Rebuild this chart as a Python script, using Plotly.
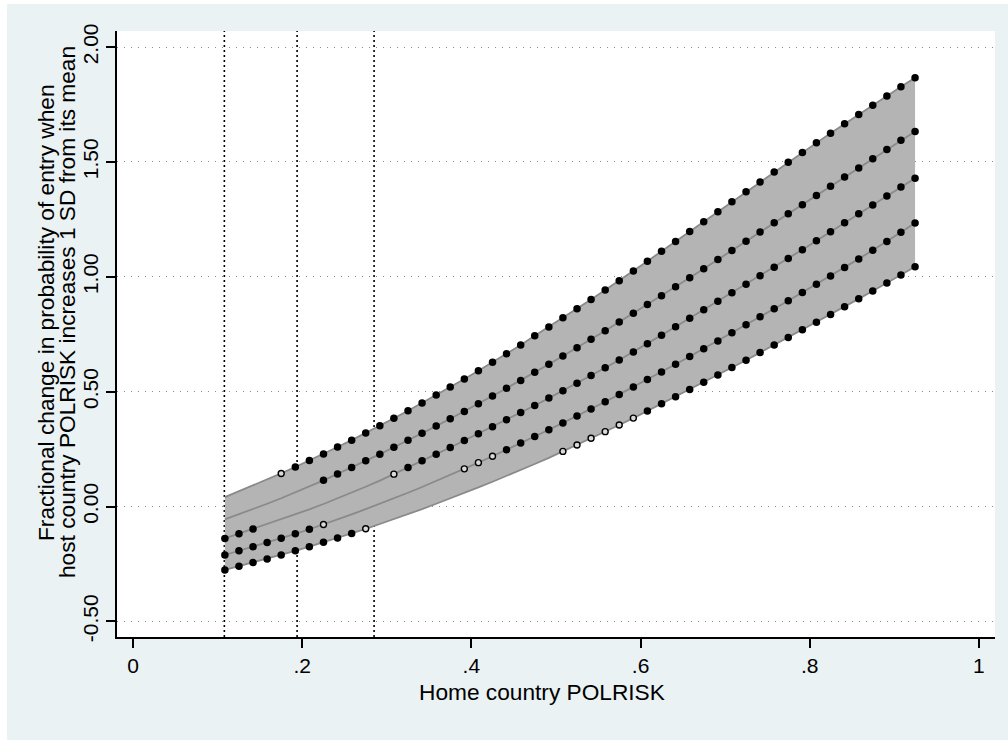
import plotly.graph_objects as go

# ---------------- data ----------------
polrisk = [0.1086, 0.1253, 0.1419, 0.1586, 0.1752, 0.1919, 0.2085, 0.2252, 0.2418, 0.2585,
           0.2751, 0.2918, 0.3084, 0.3251, 0.3417, 0.3584, 0.3750, 0.3917, 0.4083, 0.4250,
           0.4416, 0.4583, 0.4749, 0.4916, 0.5082, 0.5249, 0.5415, 0.5582, 0.5748, 0.5915,
           0.6081, 0.6248, 0.6414, 0.6581, 0.6747, 0.6914, 0.7080, 0.7247, 0.7413, 0.7580,
           0.7746, 0.7913, 0.8079, 0.8246, 0.8412, 0.8579, 0.8745, 0.8912, 0.9078, 0.9245]

upper = [0.041, 0.066, 0.092, 0.118, 0.144, 0.172, 0.200, 0.229, 0.259, 0.289,
         0.320, 0.352, 0.384, 0.417, 0.451, 0.485, 0.520, 0.555, 0.591, 0.628,
         0.665, 0.703, 0.743, 0.782, 0.822, 0.861, 0.901, 0.942, 0.983, 1.025,
         1.068, 1.111, 1.154, 1.197, 1.240, 1.283, 1.327, 1.370, 1.413, 1.456,
         1.499, 1.541, 1.583, 1.625, 1.666, 1.707, 1.747, 1.787, 1.827, 1.867]

upper_mid = [-0.056, -0.034, -0.011, 0.012, 0.036, 0.061, 0.087, 0.114, 0.142, 0.170,
             0.199, 0.228, 0.258, 0.288, 0.319, 0.350, 0.382, 0.414, 0.447, 0.481,
             0.515, 0.549, 0.584, 0.619, 0.655, 0.691, 0.728, 0.765, 0.803, 0.841,
             0.879, 0.918, 0.957, 0.996, 1.035, 1.075, 1.115, 1.155, 1.195, 1.235,
             1.274, 1.314, 1.354, 1.394, 1.434, 1.474, 1.514, 1.554, 1.594, 1.633]

middle = [-0.139, -0.118, -0.098, -0.077, -0.056, -0.034, -0.012, 0.011, 0.035, 0.060,
          0.086, 0.113, 0.141, 0.170, 0.199, 0.228, 0.257, 0.287, 0.317, 0.347,
          0.378, 0.409, 0.440, 0.472, 0.504, 0.537, 0.570, 0.604, 0.638, 0.673,
          0.709, 0.746, 0.783, 0.820, 0.857, 0.894, 0.931, 0.968, 1.005, 1.042,
          1.080, 1.118, 1.157, 1.196, 1.235, 1.274, 1.313, 1.352, 1.391, 1.429]

lower_mid = [-0.211, -0.193, -0.175, -0.157, -0.138, -0.119, -0.099, -0.078, -0.056, -0.034,
             -0.011, 0.012, 0.036, 0.060, 0.085, 0.111, 0.137, 0.164, 0.191, 0.219,
             0.247, 0.276, 0.305, 0.334, 0.364, 0.394, 0.425, 0.456, 0.488, 0.520,
             0.553, 0.586, 0.619, 0.653, 0.687, 0.721, 0.756, 0.791, 0.826, 0.861,
             0.896, 0.932, 0.968, 1.004, 1.041, 1.078, 1.116, 1.154, 1.194, 1.234]

lower = [-0.276, -0.260, -0.244, -0.228, -0.211, -0.193, -0.175, -0.156, -0.137, -0.117,
         -0.097, -0.076, -0.055, -0.033, -0.011, 0.012, 0.035, 0.059, 0.083, 0.108,
         0.133, 0.159, 0.185, 0.212, 0.240, 0.268, 0.297, 0.326, 0.355, 0.385,
         0.416, 0.447, 0.478, 0.509, 0.541, 0.573, 0.605, 0.637, 0.670, 0.703,
         0.736, 0.769, 0.802, 0.836, 0.870, 0.904, 0.938, 0.973, 1.008, 1.044]

# significance at each point: 2 = significant, 1 = marginal, 0 = not significant
sig_upper     = "00001 22222 22222 22222 22222 22222 22222 22222 22222 22222"
sig_upper_mid = "00000 00222 22222 22222 22222 22222 22222 22222 22222 22222"
sig_middle    = "22200 00000 00122 22222 22222 22222 22222 22222 22222 22222"
sig_lower_mid = "22222 22100 00000 00111 22222 22222 22222 22222 22222 22222"
sig_lower     = "22222 22222 10000 00000 00001 11111 22222 22222 22222 22222"

cutoffs = [0.108, 0.194, 0.285]

xtick_vals = [0, 0.2, 0.4, 0.6, 0.8, 1.0]
xtick_text = ["0", ".2", ".4", ".6", ".8", "1"]
ytick_vals = [-0.5, 0.0, 0.5, 1.0, 1.5, 2.0]
ytick_text = ["-0.50", "0.00", "0.50", "1.00", "1.50", "2.00"]

x_title = "Home country POLRISK"
y_title_1 = "Fractional change in probability of entry when"
y_title_2 = "host country POLRISK increases 1 SD from its mean"

# ---------------- styling ----------------
FONT = "Liberation Sans, Arial, sans-serif"
BAND = "#B4B4B4"
LINE = "#8A8A8A"
OUTER = "#EAF2F3"

W, H = 1008, 740
L, R, T, B = 117, 13, 31, 103
PW, PH = W - L - R, H - T - B


def px_x(p):
    return (p - L) / PW


def px_y(p):
    return (H - B - p) / PH


fig = go.Figure()

# confidence band between the lowest and highest curve
fig.add_trace(go.Scatter(x=polrisk, y=lower, mode="lines", line=dict(width=0, color=BAND),
                         hoverinfo="skip", showlegend=False))
fig.add_trace(go.Scatter(x=polrisk, y=upper, mode="lines", line=dict(width=0, color=BAND),
                         fill="tonexty", fillcolor=BAND, hoverinfo="skip", showlegend=False))

series = [(upper, sig_upper), (upper_mid, sig_upper_mid), (middle, sig_middle),
          (lower_mid, sig_lower_mid), (lower, sig_lower)]

for ys, sig in series:
    codes = sig.replace(" ", "")
    fig.add_trace(go.Scatter(x=polrisk, y=ys, mode="lines",
                             line=dict(color=LINE, width=1.8), showlegend=False))
    filled = [y if c == "2" else None for y, c in zip(ys, codes)]
    hollow = [y if c == "1" else None for y, c in zip(ys, codes)]
    fig.add_trace(go.Scatter(x=polrisk, y=filled, mode="markers",
                             marker=dict(symbol="circle", size=7.5, color="black",
                                         line=dict(width=0)),
                             showlegend=False))
    fig.add_trace(go.Scatter(x=polrisk, y=hollow, mode="markers",
                             marker=dict(symbol="circle", size=6, color="#D9D9D9",
                                         line=dict(width=1.4, color="black")),
                             showlegend=False))

shapes = []
for c in cutoffs:
    shapes.append(dict(type="line", xref="x", yref="paper", x0=c, x1=c, y0=0, y1=1,
                       layer="below", line=dict(color="black", width=1.6, dash="2px,3px")))
# thin white strip at the left and top edge of the image
shapes.append(dict(type="rect", xref="paper", yref="paper", x0=px_x(-2), x1=px_x(7),
                   y0=px_y(H + 2), y1=px_y(-2), fillcolor="white", line=dict(width=0)))
shapes.append(dict(type="rect", xref="paper", yref="paper", x0=px_x(-2), x1=px_x(W + 2),
                   y0=px_y(4), y1=px_y(-2), fillcolor="white", line=dict(width=0)))

TITLE_SIZE = 22.7
annotations = [
    dict(text=y_title_1, xref="paper", yref="paper", x=px_x(46), y=px_y(313),
         textangle=-90, showarrow=False, xanchor="center", yanchor="middle",
         font=dict(family=FONT, size=TITLE_SIZE, color="black")),
    dict(text=y_title_2, xref="paper", yref="paper", x=px_x(67), y=px_y(312),
         textangle=-90, showarrow=False, xanchor="center", yanchor="middle",
         font=dict(family=FONT, size=TITLE_SIZE, color="black")),
    dict(text=x_title, xref="paper", yref="paper", x=px_x(542), y=px_y(692),
         showarrow=False, xanchor="center", yanchor="middle",
         font=dict(family=FONT, size=TITLE_SIZE, color="black")),
]

fig.update_layout(
    width=W, height=H,
    margin=dict(l=L, r=R, t=T, b=B, pad=0),
    paper_bgcolor=OUTER, plot_bgcolor="white",
    font=dict(family=FONT, size=21, color="black"),
    shapes=shapes, annotations=annotations,
    showlegend=False,
    xaxis=dict(range=[-0.0189, 1.019], tickvals=xtick_vals, ticktext=xtick_text,
               showgrid=False, zeroline=False, showline=True, linecolor="black", linewidth=2,
               ticks="outside", ticklen=9, tickwidth=2, tickcolor="black",
               tickfont=dict(size=21), fixedrange=True),
    yaxis=dict(range=[-0.568, 2.070], tickvals=ytick_vals, ticktext=ytick_text,
               showgrid=True, gridcolor="#8C8C8C", gridwidth=1, griddash="1px,6px",
               zeroline=False, showline=True, linecolor="black", linewidth=2,
               ticks="outside", ticklen=9, tickwidth=2, tickcolor="black",
               tickangle=-90, tickfont=dict(size=21), fixedrange=True),
)

fig.write_html("out.html", config={"displayModeBar": False},
               post_script="document.body.style.margin='0';")
